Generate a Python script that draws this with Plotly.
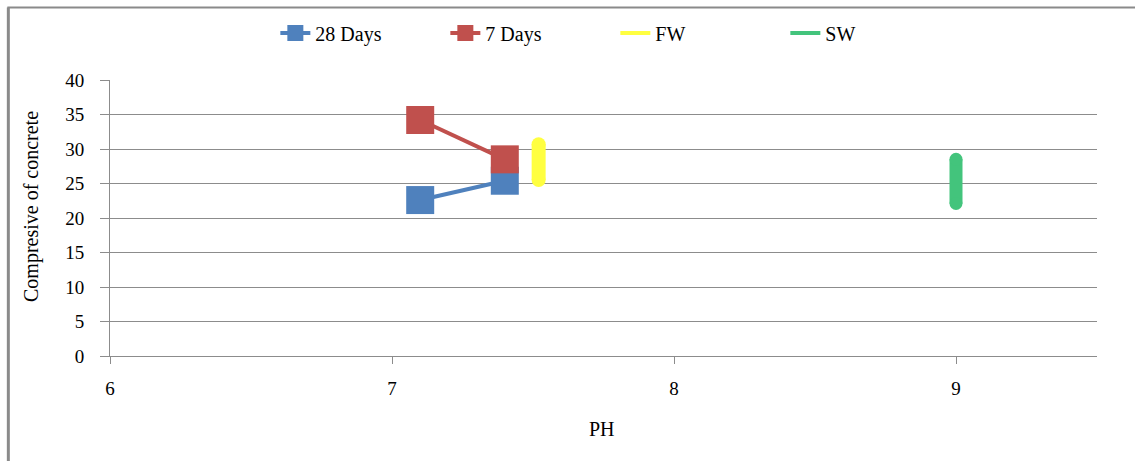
import plotly.graph_objects as go

# Data
ph_28 = [7.1, 7.4]
days_28 = [22.6, 25.4]
ph_7 = [7.1, 7.4]
days_7 = [34.2, 28.5]
ph_fw = [7.52, 7.52]
fw_vals = [25.5, 30.7]
ph_sw = [9.0, 9.0]
sw_vals = [22.1, 28.5]

x_ticks = [6, 7, 8, 9]
y_ticks = [0, 5, 10, 15, 20, 25, 30, 35, 40]

BLUE = "#4F81BD"
RED = "#C0504D"
YELLOW = "#FFFF40"
GREEN = "#43C47C"
GRID = "#8C8C8C"
FONT = "Liberation Serif"

fig = go.Figure()

fig.add_trace(go.Scatter(x=ph_28, y=days_28, name="28 Days", mode="lines+markers",
                         line=dict(color=BLUE, width=4),
                         marker=dict(symbol="square", size=28, color=BLUE, line=dict(width=0))))
fig.add_trace(go.Scatter(x=ph_7, y=days_7, name="7 Days", mode="lines+markers",
                         line=dict(color=RED, width=4),
                         marker=dict(symbol="square", size=28, color=RED, line=dict(width=0))))

# FW and SW vertical bars with rounded ends
fig.add_trace(go.Scatter(x=ph_fw, y=fw_vals, mode="lines+markers", showlegend=False,
                         line=dict(color=YELLOW, width=14),
                         marker=dict(symbol="circle", size=14, color=YELLOW, line=dict(width=0))))
fig.add_trace(go.Scatter(x=ph_sw, y=sw_vals, mode="lines+markers", showlegend=False,
                         line=dict(color=GREEN, width=13),
                         marker=dict(symbol="circle", size=13, color=GREEN, line=dict(width=0))))
# legend entries for FW / SW (thin lines like the reference legend)
fig.add_trace(go.Scatter(x=[None], y=[None], name="FW", mode="lines",
                         line=dict(color=YELLOW, width=4)))
fig.add_trace(go.Scatter(x=[None], y=[None], name="SW", mode="lines",
                         line=dict(color=GREEN, width=4)))

fig.update_layout(
    width=1135, height=461,
    margin=dict(l=110, r=38, t=80, b=105),
    paper_bgcolor="white", plot_bgcolor="white",
    font=dict(family=FONT, size=19, color="#000000"),
    legend=dict(orientation="h", x=0.512, xanchor="center", y=1.17, yanchor="middle",
                font=dict(family=FONT, size=20), itemwidth=30, traceorder="normal",
                entrywidth=125, entrywidthmode="pixels",
                bgcolor="rgba(0,0,0,0)"),
    showlegend=True,
)

fig.update_xaxes(range=[6, 9.5], tickvals=x_ticks, ticktext=[str(v) for v in x_ticks],
                 showgrid=False, zeroline=False, showline=True, linecolor=GRID, linewidth=1,
                 ticks="outside", ticklen=7, tickcolor=GRID, ticklabelstandoff=8,
                 tickfont=dict(family=FONT, size=19))
fig.update_yaxes(range=[0, 40], tickvals=y_ticks, showgrid=True, gridcolor=GRID, gridwidth=1,
                 zeroline=False, showline=True, linecolor=GRID, linewidth=1,
                 ticks="outside", ticklen=9, tickcolor=GRID, ticklabelstandoff=12,
                 tickfont=dict(family=FONT, size=19))

# axis titles
fig.add_annotation(text="PH", xref="paper", yref="paper", x=0.498, y=-0.265,
                   xanchor="center", yanchor="middle", showarrow=False,
                   font=dict(family=FONT, size=20))
fig.add_annotation(text="Compresive of concrete", xref="paper", yref="paper", x=-0.079, y=0.54,
                   xanchor="center", yanchor="middle", textangle=-90, showarrow=False,
                   font=dict(family=FONT, size=20))

# outer frame (top and left edges visible in the reference)
fig.add_shape(type="line", xref="paper", yref="paper", x0=-0.104, x1=1.04, y0=1.263, y1=1.263,
              line=dict(color="#8A8A8A", width=2))
fig.add_shape(type="line", xref="paper", yref="paper", x0=-0.103, x1=-0.103, y0=1.263, y1=-0.4,
              line=dict(color="#8A8A8A", width=3))

fig.write_html("out.html")
